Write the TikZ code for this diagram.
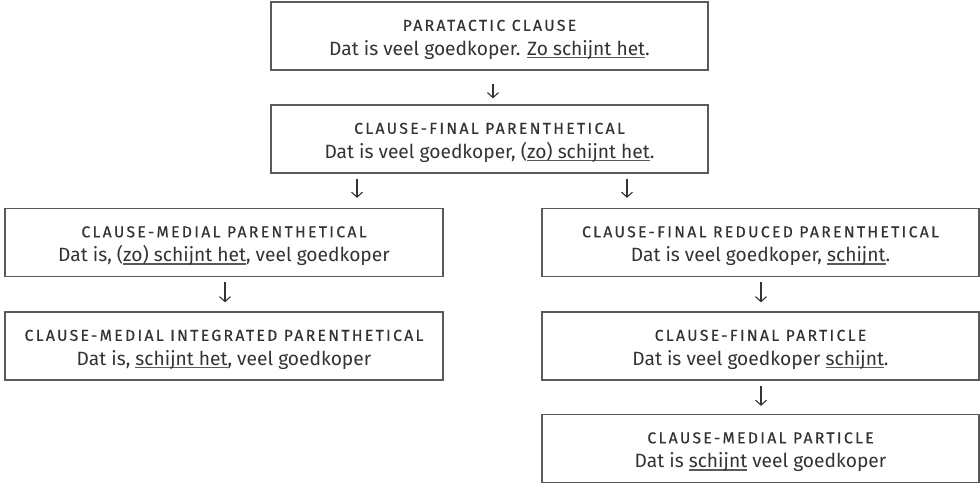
\documentclass[tikz,border=0pt]{standalone}
\usepackage{fontspec}
\setmainfont{Fira Sans}
\newfontfamily\headfont[LetterSpace=15,FakeBold=0.5]{Fira Sans}
\usetikzlibrary{arrows.meta}
\definecolor{txt}{HTML}{333333}
\definecolor{edge}{HTML}{5a5a5a}
\newcommand\myul[1]{{\setbox0\hbox{#1}\rlap{\color{edge}\vrule height -1.8pt depth 2.9pt width \wd0}\box0}}
\begin{document}
\begin{tikzpicture}[x=1pt,y=-1pt,
  box/.style={draw=edge, line width=1.3pt, minimum height=68pt, inner sep=0pt,
    align=center, text=txt, font=\fontsize{19.2}{24.3}\selectfont},
  arr/.style={draw=txt, line width=1.1pt, -{Straight Barb[length=5pt,width=11pt]}}]
\useasboundingbox (0,0) rectangle (980,483);
\newcommand\hd[1]{\rule{0pt}{18pt}{\headfont\fontsize{15.7}{24.3}\selectfont #1}}
\node[box, minimum width=437pt] (b1) at (489.5,36) {\hd{PARATACTIC CLAUSE}\\Dat is veel goedkoper. \myul{Zo schijnt het}.};
\node[box, minimum width=437pt] (b2) at (489.5,139) {\hd{CLAUSE-FINAL PARENTHETICAL}\\Dat is veel goedkoper, (\myul{zo) schijnt het}.};
\node[box, minimum width=438pt] (l1) at (224,242.5) {\hd{CLAUSE-MEDIAL PARENTHETICAL}\\Dat is, (\myul{zo) schijnt het}, veel goedkoper};
\node[box, minimum width=438pt] (l2) at (224,346) {\hd{CLAUSE-MEDIAL INTEGRATED PARENTHETICAL}\\Dat is, \myul{schijnt het}, veel goedkoper};
\node[box, minimum width=437pt] (r1) at (760.5,242.5) {\hd{CLAUSE-FINAL REDUCED PARENTHETICAL}\\Dat is veel goedkoper, \myul{schijnt}.};
\node[box, minimum width=437pt] (r2) at (760.5,346) {\hd{CLAUSE-FINAL PARTICLE}\\Dat is veel goedkoper \myul{schijnt}.};
\node[box, minimum width=437pt] (r3) at (760.5,448.5) {\hd{CLAUSE-MEDIAL PARTICLE}\\Dat is \myul{schijnt} veel goedkoper};
\coordinate (xa) at (493,0);
\coordinate (xb) at (357,0);
\coordinate (xc) at (627,0);
\coordinate (xd) at (225,0);
\coordinate (xe) at (761,0);
\draw[arr, shorten <=13pt, shorten >=6pt] (b1.south -| xa) -- (b2.north -| xa);
\draw[arr, shorten <=5pt, shorten >=10pt] (b2.south -| xb) -- (l1.north -| xb);
\draw[arr, shorten <=5pt, shorten >=10pt] (b2.south -| xc) -- (r1.north -| xc);
\draw[arr, shorten <=5pt, shorten >=9pt] (l1.south -| xd) -- (l2.north -| xd);
\draw[arr, shorten <=5pt, shorten >=9pt] (r1.south -| xe) -- (r2.north -| xe);
\draw[arr, shorten <=5pt, shorten >=8pt] (r2.south -| xe) -- (r3.north -| xe);
\end{tikzpicture}
\end{document}
